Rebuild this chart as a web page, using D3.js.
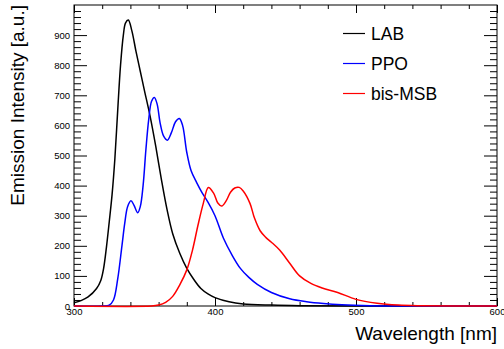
<!DOCTYPE html>
<html>
<head>
  <script src="https://d3js.org/d3.v7.min.js"></script>
  <style>
    body { margin: 0; background: #fff; }
    svg text { font-family: "Liberation Sans", Arial, sans-serif; }
  </style>
</head>
<body>
  <svg id="chart"></svg>
  <script>
    // data
    const labWl  = [300, 305, 310, 316, 319, 321, 323, 325, 327, 329, 331, 333, 335, 336.5, 338.5, 341, 344, 347, 350, 354, 358, 362, 366, 370, 375, 380, 385, 390, 395, 400, 410, 420, 440, 460, 500, 600];
    const labVal = [11, 18, 30, 58, 85, 125, 195, 280, 370, 490, 650, 800, 900, 940, 950, 915, 845, 780, 715, 630, 530, 420, 320, 240, 175, 125, 88, 58, 40, 28, 14, 7, 3, 1, 0, 0];

    const ppoWl  = [300, 320, 325, 328, 331, 334, 336, 338, 340.4, 342.5, 345.2, 347, 349, 351, 353, 355, 357, 359, 361, 363.5, 366.2, 369, 372, 374.7, 377, 380, 383, 387, 391, 395, 400, 406, 412, 418, 424, 430, 440, 453, 465, 477, 490, 510, 530, 600];
    const ppoVal = [0, 0, 3, 20, 90, 200, 275, 330, 350, 335, 310, 330, 400, 520, 620, 680, 693, 670, 610, 565, 551, 575, 612, 623, 600, 510, 450, 410, 375, 345, 300, 225, 170, 125, 95, 72, 45, 24, 14, 8, 4, 1, 0, 0];

    const msbWl  = [300, 355, 360, 365, 370, 375, 380, 384, 388, 391.7, 395.3, 399, 402, 404.7, 408, 411, 414, 417.2, 420, 424.8, 428, 432, 436, 440, 446, 453, 460, 468, 476, 487, 500, 515, 530, 545, 600];
    const msbVal = [0, 0, 3, 12, 32, 70, 120, 185, 270, 341, 394, 375, 342, 332, 350, 378, 392, 394, 382, 341, 292, 250, 228, 212, 185, 142, 100, 75, 60, 45, 22, 9, 3, 1, 0];

    const seriesNames = ["LAB", "PPO", "bis-MSB"];
    const seriesColors = ["#000000", "#0000ff", "#ff0000"];
    const xTicks = [300, 400, 500, 600];
    const yTicks = [0, 100, 200, 300, 400, 500, 600, 700, 800, 900];

    const width = 504, height = 349;
    const svg = d3.select("#chart").attr("width", width).attr("height", height);

    const x = d3.scaleLinear().domain([300, 600]).range([74, 497]);
    const y = d3.scaleLinear().domain([0, 1000]).range([306, 5]);

    const xMinor = d3.range(300, 601, 20).filter(v => v % 100 !== 0);
    const yMinor = d3.range(0, 1001, 20).filter(v => v % 100 !== 0);

    function clean(g) {
      g.attr("font-family", null).attr("font-size", null);
      g.select(".domain").remove();
      g.selectAll("line").attr("stroke", "#000");
      g.selectAll("text").attr("font-size", 9.5).attr("fill", "#000");
    }

    // bottom
    svg.append("g").attr("transform", `translate(0,${y(0)})`)
      .call(d3.axisBottom(x).tickValues(xTicks).tickSize(-8).tickPadding(2))
      .call(clean);
    svg.append("g").attr("transform", `translate(0,${y(0)})`)
      .call(d3.axisBottom(x).tickValues(xMinor).tickSize(-4).tickFormat(""))
      .call(clean);
    // top
    svg.append("g").attr("transform", `translate(0,${y(1000)})`)
      .call(d3.axisTop(x).tickValues(xTicks).tickSize(-8).tickFormat(""))
      .call(clean);
    svg.append("g").attr("transform", `translate(0,${y(1000)})`)
      .call(d3.axisTop(x).tickValues(xMinor).tickSize(-4).tickFormat(""))
      .call(clean);
    // left
    svg.append("g").attr("transform", `translate(${x(300)},0)`)
      .call(d3.axisLeft(y).tickValues(yTicks).tickSize(-13).tickPadding(4))
      .call(clean);
    svg.append("g").attr("transform", `translate(${x(300)},0)`)
      .call(d3.axisLeft(y).tickValues(yMinor).tickSize(-7).tickFormat(""))
      .call(clean);
    // right
    svg.append("g").attr("transform", `translate(${x(600)},0)`)
      .call(d3.axisRight(y).tickValues(yTicks).tickSize(-13).tickFormat(""))
      .call(clean);
    svg.append("g").attr("transform", `translate(${x(600)},0)`)
      .call(d3.axisRight(y).tickValues(yMinor).tickSize(-7).tickFormat(""))
      .call(clean);

    // frame
    svg.append("rect")
      .attr("x", x(300)).attr("y", y(1000))
      .attr("width", x(600) - x(300)).attr("height", y(0) - y(1000))
      .attr("fill", "none").attr("stroke", "#000").attr("stroke-width", 1);

    // curves
    const series = [
      { wl: labWl, val: labVal },
      { wl: ppoWl, val: ppoVal },
      { wl: msbWl, val: msbVal }
    ];
    const line = d3.line()
      .x(d => x(d[0]))
      .y(d => y(Math.max(0, d[1])))
      .curve(d3.curveCatmullRom.alpha(0.5));

    series.forEach((s, i) => {
      svg.append("path")
        .datum(s.wl.map((w, j) => [w, s.val[j]]))
        .attr("d", line)
        .attr("fill", "none")
        .attr("stroke", seriesColors[i])
        .attr("stroke-width", 1.5);
    });

    // legend
    const leg = svg.append("g");
    seriesNames.forEach((name, i) => {
      const ly = 33.5 + i * 30;
      leg.append("line")
        .attr("x1", 343).attr("x2", 365)
        .attr("y1", ly).attr("y2", ly)
        .attr("stroke", seriesColors[i]).attr("stroke-width", 1.2);
      leg.append("text")
        .attr("x", 371).attr("y", ly + 6)
        .attr("font-size", 17.5)
        .text(name);
    });

    // axis titles
    svg.append("text")
      .attr("transform", "translate(24,5) rotate(-90)")
      .attr("text-anchor", "end")
      .attr("font-size", 19)
      .text("Emission Intensity [a.u.]");
    svg.append("text")
      .attr("x", 497).attr("y", 340)
      .attr("text-anchor", "end")
      .attr("font-size", 19)
      .text("Wavelength [nm]");
  </script>
</body>
</html>
